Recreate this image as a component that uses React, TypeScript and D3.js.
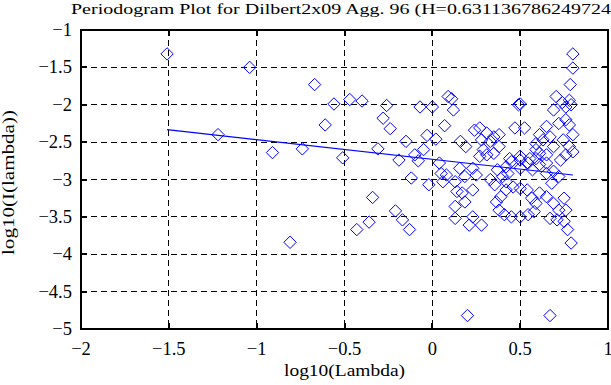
import * as d3 from 'd3';

const title = 'Periodogram Plot for Dilbert2x09 Agg. 96 (H=0.631136786249724';
const xLabel = 'log10(Lambda)';
const yLabel = 'log10(I(lambda))';

const xTicks = [-2, -1.5, -1, -0.5, 0, 0.5, 1];
const yTicks = [-5, -4.5, -4, -3.5, -3, -2.5, -2, -1.5, -1];

// log10(lambda), log10(I(lambda))
const lambdaLog = [
  -1.51, -1.04, -0.67, -1.22, -0.91, -0.74, -0.81,
  -0.56, -0.47, -0.40, -0.26, -0.28, -0.24, -0.61, -0.51, -0.31, -0.19, -0.15, -0.10, -0.08,
  -0.05, -0.07, 0.00, -0.03, 0.02, 0.07, 0.09, 0.11, 0.12, -0.12, -0.02, 0.04, 0.05, 0.08,
  0.06, -0.34, -0.21, -0.17, -0.36, -0.43, -0.13, 0.14, 0.13, 0.13, 0.16,
  0.80, 0.80, 0.785, 0.50, 0.49, 0.47, 0.525, 0.705, 0.69, 0.74, 0.76, 0.78, 0.79, 0.76,
  0.78, 0.80, 0.72, 0.65, 0.61, 0.63, 0.67, 0.59, 0.69, 0.745, 0.78, 0.80, 0.27, 0.24,
  0.31, 0.35, 0.38, 0.28, 0.33, 0.38, 0.19, 0.29, 0.31, 0.44, 0.50, 0.555, 0.61, 0.65, 0.59,
  0.156, 0.185, 0.23, 0.25, 0.35, 0.33, 0.355, 0.37, 0.42, 0.43, 0.45, 0.50, 0.50, 0.545,
  0.57, 0.61, 0.59, 0.65, 0.69, 0.72, 0.68, 0.65, 0.73, 0.76,
  0.365, 0.39, 0.42, 0.46, 0.50, 0.54, 0.565, 0.59, 0.58, 0.545, 0.50, 0.45, 0.41, 0.38,
  0.42, 0.40, 0.61, 0.65, 0.69, 0.72, 0.75, 0.76, 0.67, 0.71, 0.75, 0.77, 0.79,
  0.23, 0.185, 0.23, 0.21, 0.28, 0.17, 0.13, 0.27, 0.20, 0.67,
];
const periodogramLog = [
  -1.32, -1.50, -1.73, -2.40, -2.64, -2.59, -3.84,
  -1.99, -1.93, -1.95, -2.01, -2.18, -2.32, -2.27, -2.71, -2.59, -2.74, -2.49, -2.67, -2.75,
  -2.60, -2.03, -2.03, -2.41, -2.46, -2.28, -1.89, -1.92, -2.07, -2.98, -3.07, -2.78, -2.92, -2.94,
  -3.03, -3.24, -3.42, -3.54, -3.57, -3.67, -3.67, -3.16, -3.36, -3.52, -2.49,
  -1.32, -1.51, -1.73, -1.99, -2.00, -2.31, -2.31, -1.89, -2.07, -1.97, -2.03, -1.94, -2.00, -2.20,
  -2.27, -2.40, -2.25, -2.29, -2.40, -2.47, -2.43, -2.52, -2.56, -2.47, -2.56, -2.63, -2.31, -2.34,
  -2.38, -2.43, -2.40, -2.47, -2.49, -2.56, -2.56, -2.60, -2.67, -2.72, -2.69, -2.72, -2.65, -2.67, -2.60,
  -2.85, -2.96, -2.85, -2.94, -2.65, -3.00, -3.07, -2.87, -2.83, -2.92, -2.76, -2.74, -2.85, -2.78,
  -2.87, -2.80, -2.72, -2.92, -2.89, -2.96, -3.05, -2.78, -2.74, -2.67,
  -3.30, -3.23, -3.14, -3.10, -3.12, -3.14, -3.25, -3.32, -3.43, -3.47, -3.50, -3.50, -3.47, -3.41,
  -3.03, -2.96, -3.18, -3.23, -3.32, -3.41, -3.25, -3.41, -3.52, -3.54, -3.56, -3.67, -3.85,
  -3.14, -3.30, -3.50, -3.61, -3.61, -3.18, -3.03, -2.69, -4.82, -4.82,
];

// least-squares fit line endpoints
const fitX = [-1.51, 0.8];
const fitY = [-2.333, -2.94];

const W = 611;
const H = 385;
const left = 81;
const right = 608;
const top = 30;
const bottom = 329;
const serif = '"Liberation Serif", "Times New Roman", serif';
const blue = '#0000ff';

const fmt = (v: number) => String(v).replace('-', '\u2212');

export default function App() {
  const x = d3.scaleLinear().domain([-2, 1]).range([left, right]);
  const y = d3.scaleLinear().domain([-5, -1]).range([bottom, top]);

  const points = lambdaLog.map((lx, i) => ({ x: lx, y: periodogramLog[i] }));
  const diamond = d3.symbol(d3.symbolDiamond2, 98)();
  const line = d3
    .line<number>()
    .x((d) => x(d))
    .y((_d, i) => y(fitY[i]));

  const tickLen = 6;

  return (
    <svg
      width={W}
      height={H}
      style={{ position: 'absolute', left: 0, top: 0, background: '#fff' }}
      fontFamily={serif}
    >
      <rect x={0} y={0} width={W} height={H} fill="#fff" />

      {/* dashed grid */}
      <g stroke="#000" strokeWidth={1.2} strokeDasharray="6,4" shapeRendering="crispEdges">
        {xTicks.slice(1, -1).map((t) => (
          <line key={'gx' + t} x1={x(t)} x2={x(t)} y1={top} y2={bottom} />
        ))}
        {yTicks.slice(1, -1).map((t) => (
          <line key={'gy' + t} x1={left} x2={right} y1={y(t)} y2={y(t)} />
        ))}
      </g>

      {/* inner ticks on all four sides */}
      <g stroke="#000" strokeWidth={2} shapeRendering="crispEdges">
        {xTicks.map((t) => (
          <g key={'tx' + t}>
            <line x1={x(t)} x2={x(t)} y1={bottom} y2={bottom - tickLen} />
            <line x1={x(t)} x2={x(t)} y1={top} y2={top + tickLen} />
          </g>
        ))}
        {yTicks.map((t) => (
          <g key={'ty' + t}>
            <line x1={left} x2={left + tickLen} y1={y(t)} y2={y(t)} />
            <line x1={right} x2={right - tickLen} y1={y(t)} y2={y(t)} />
          </g>
        ))}
      </g>

      {/* markers */}
      <g fill="none" stroke={blue} strokeWidth={1}>
        {points.map((p, i) => (
          <path key={i} d={diamond} transform={`translate(${x(p.x)},${y(p.y)})`} />
        ))}
      </g>

      <path d={line(fitX) ?? ''} fill="none" stroke={blue} strokeWidth={1.2} />

      <rect
        x={left}
        y={top}
        width={right - left}
        height={bottom - top}
        fill="none"
        stroke="#000"
        strokeWidth={2}
        shapeRendering="crispEdges"
      />

      {/* tick labels */}
      <g fontSize={18.5} fill="#000">
        {xTicks.map((t) => (
          <text key={'lx' + t} x={x(t)} y={355} textAnchor="middle">
            {fmt(t)}
          </text>
        ))}
        {yTicks.map((t) => (
          <text key={'ly' + t} x={72} y={y(t) + 6} textAnchor="end">
            {fmt(t)}
          </text>
        ))}
      </g>

      <text x={71} y={13.5} fontSize={14} textLength={540} lengthAdjust="spacingAndGlyphs">
        {title}
      </text>
      <text
        x={(left + right) / 2}
        y={376}
        fontSize={16}
        textAnchor="middle"
        textLength={121}
        lengthAdjust="spacingAndGlyphs"
      >
        {xLabel}
      </text>
      <text
        transform={`translate(14,${(top + bottom) / 2 + 3}) rotate(-90)`}
        fontSize={16}
        textAnchor="middle"
        textLength={145}
        lengthAdjust="spacingAndGlyphs"
      >
        {yLabel}
      </text>
    </svg>
  );
}
